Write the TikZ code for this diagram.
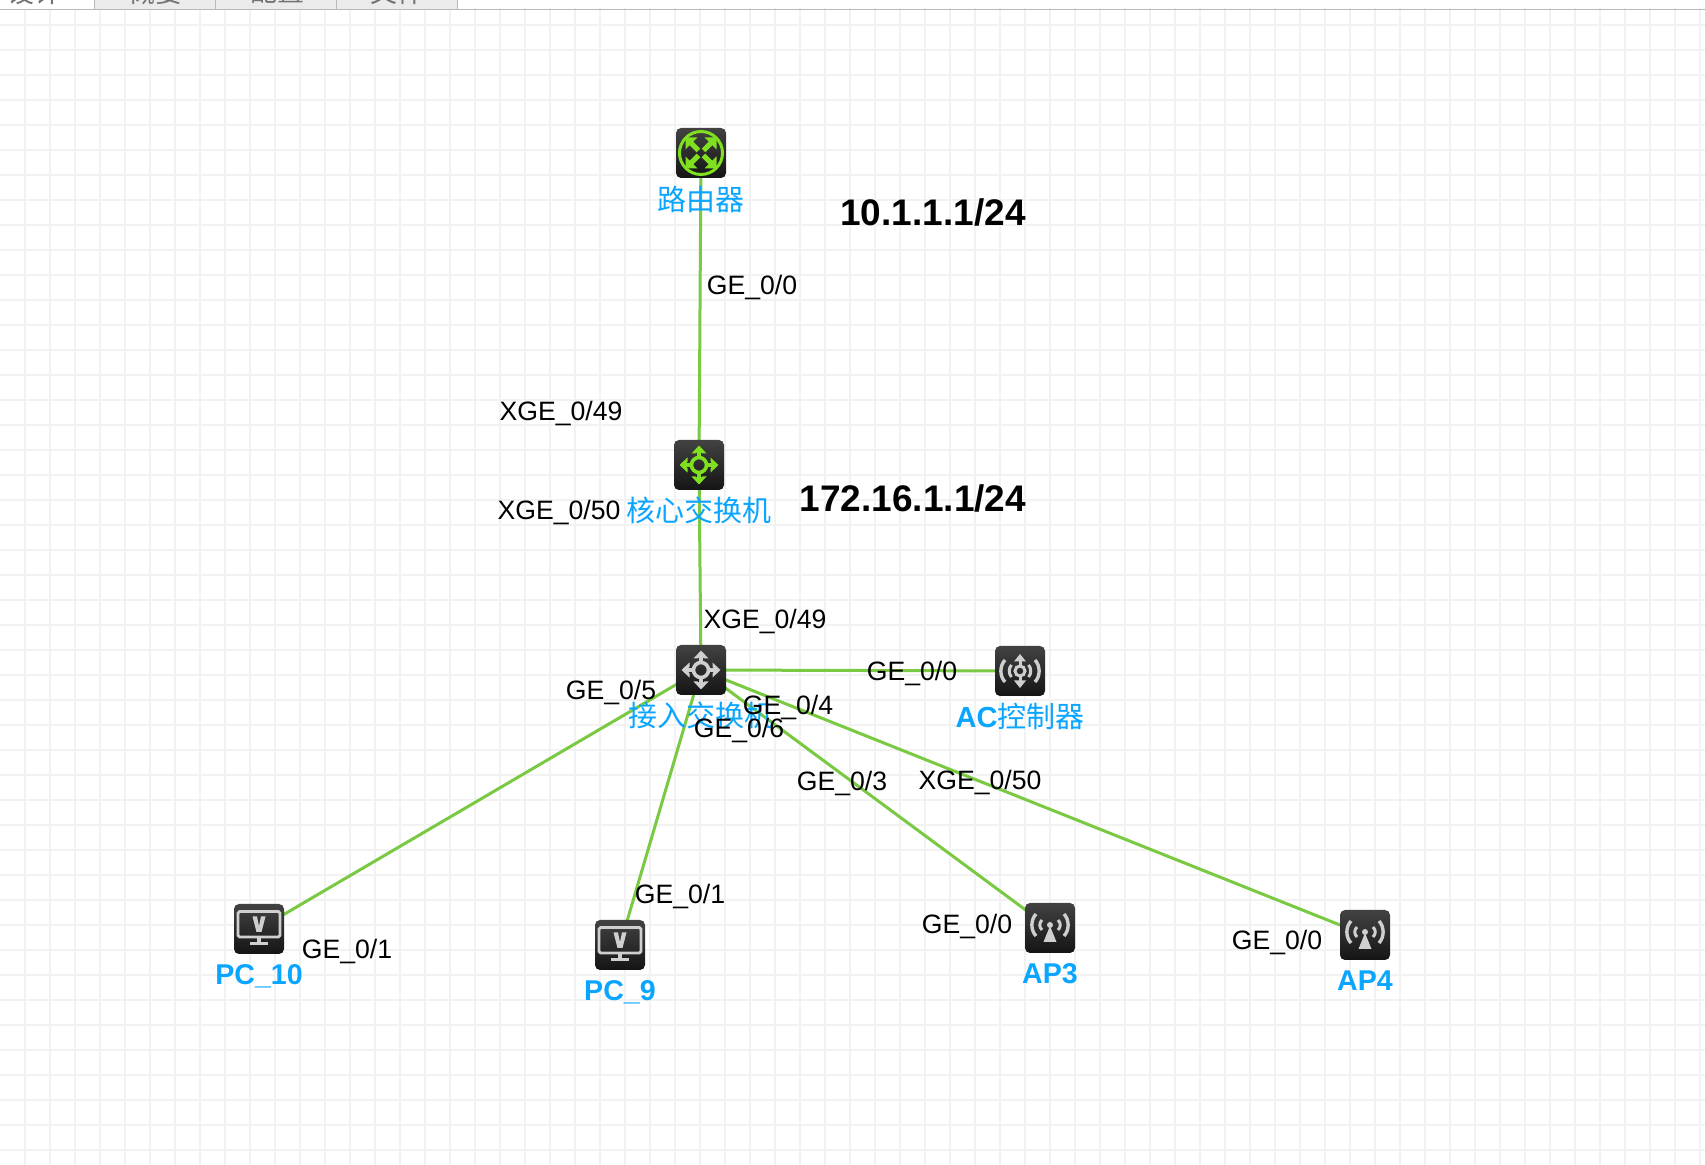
\documentclass[tikz,border=0pt]{standalone}
\usepackage{fontspec}
\setmainfont{Liberation Sans}
\newfontfamily\cjkfont{Noto Sans CJK SC}
\pgfdeclarelayer{gridlayer}
\pgfdeclarelayer{linklayer}
\pgfsetlayers{gridlayer,linklayer,main}
\definecolor{gridc}{HTML}{F2F2F2}
\definecolor{linkc}{HTML}{7AC943}
\definecolor{bluec}{HTML}{0AA5FF}
\definecolor{glowc}{HTML}{7FE020}
\definecolor{greyc}{HTML}{CFCFCF}
\tikzset{
  iconbox/.style={minimum size=25pt,inner sep=0pt,rounded corners=2.5pt,top color=black!74,bottom color=black!92,shading angle=0},
  link/.style={draw=linkc,line width=1.5pt},
  portlabel/.style={inner sep=0pt,text height=9.6pt,text depth=0pt,font=\fontsize{13.3}{16}\selectfont},
  iplabel/.style={inner sep=0pt,text height=13.2pt,text depth=0pt,font=\fontsize{18.5}{22}\selectfont\bfseries},
  devlabel/.style={inner sep=0pt,text height=10.4pt,text depth=0pt,text=bluec,font=\fontsize{14.3}{17}\selectfont\bfseries},
  cjklabel/.style={inner sep=0pt,text=bluec,font=\fontsize{14.5}{17}\selectfont\cjkfont},
  tablabel/.style={inner sep=0pt,text=black!55,font=\fontsize{13.5}{16}\selectfont\cjkfont},
  tabbox/.style={draw=black!28,line width=.5pt,fill=#1},
  routerglyph/.pic={
    \draw[glowc,line width=1.5pt] (0,0) circle[radius=21.5];
    \foreach \sx in {1,-1}\foreach \sy in {1,-1}{
      \begin{scope}[xscale=\sx,yscale=\sy]
        \draw[glowc,line width=2.6pt] (2.5,2.5) -- (10,10);
        \fill[glowc] (15.5,15.5) -- (15.5,3.5) -- (3.5,15.5) -- cycle;
      \end{scope}}
  },
  switchglyph/.pic={
    \draw[#1,line width=1.8pt] (0,0) circle[radius=7.5];
    \foreach \r in {0,90,180,270}{
      \begin{scope}[rotate=\r]
        \draw[#1,line width=1.6pt] (8,0) -- (15,0);
        \fill[#1] (19.5,0) -- (11.5,-7.5) -- (11.5,-3.5) -- (14,0) -- (11.5,3.5) -- (11.5,7.5) -- cycle;
      \end{scope}}
  },
  acglyph/.pic={
    \draw[greyc,line width=1.5pt] (0,0) circle[radius=5];
    \draw[greyc,line width=1.5pt] (0,-5) -- (0,-13) (0,5) -- (0,13);
    \fill[greyc] (0,-17) -- (6,-9.5) -- (-6,-9.5) -- cycle;
    \fill[greyc] (0,17) -- (6,9.5) -- (-6,9.5) -- cycle;
    \foreach \sx in {1,-1}{
      \begin{scope}[xscale=\sx]
        \draw[greyc,line width=1.7pt] (15,-11) .. controls (20.5,-5) and (20.5,5) .. (15,11);
        \draw[greyc,line width=1.5pt] (8.5,-6) .. controls (11.5,-3) and (11.5,3) .. (8.5,6);
      \end{scope}}
  },
  apglyph/.pic={
    \fill[greyc] (0,-3) circle[radius=3];
    \fill[greyc] (0,-2) -- (6.5,14) -- (-6.5,14) -- cycle;
    \foreach \sx in {1,-1}{
      \begin{scope}[xscale=\sx]
        \draw[greyc,line width=1.7pt] (14,-14) .. controls (19.5,-8) and (19.5,2) .. (14,8);
        \draw[greyc,line width=1.5pt] (8,-8) .. controls (11,-5) and (11,-1) .. (8,2);
      \end{scope}}
  },
  pcglyph/.pic={
    \draw[greyc,line width=1.4pt,rounded corners=.8pt] (-21,-17.5) rectangle (21,8);
    \fill[greyc] (-6.5,-12.5) -- (-2,-12.5) -- (0,-3) -- (2,-12.5) -- (6.5,-12.5) -- (2.5,3) -- (-2.5,3) -- cycle;
    \fill[greyc] (-2,9) rectangle (2,13);
    \fill[greyc] (-9,13) rectangle (9,16);
  }
}
\begin{document}
\begin{tikzpicture}[x=0.5pt,y=-0.5pt]
\useasboundingbox (0,0) rectangle (1705,1165);

% canvas grid
\begin{pgfonlayer}{gridlayer}
  \fill[white] (0,0) rectangle (1705,1165);
  \begin{scope}
    \clip (0,9) rectangle (1705,1165);
    \foreach \gx in {25,50,...,1700}{\draw[gridc,line width=1pt] (\gx,0) -- (\gx,1165);}
    \foreach \gy in {25,50,...,1150}{\draw[gridc,line width=1pt] (0,\gy) -- (1705,\gy);}
  \end{scope}
\end{pgfonlayer}

% tab strip, cut by the top edge
\begin{scope}
  \clip (0,0) rectangle (1705,10);
  \draw[tabbox=white] (-2,-5) rectangle (94,9.5);
  \draw[tabbox=black!8] (94,-5) rectangle (215,9.5);
  \draw[tabbox=black!8] (215,-5) rectangle (336,9.5);
  \draw[tabbox=black!8] (336,-5) rectangle (457,9.5);
  \draw[black!28,line width=.5pt] (94,9.5) -- (1705,9.5);
  \node[tablabel] (tabdesign) at (34,-8) {设计};
  \node[tablabel] (taboverview) at (155,-8) {概要};
  \node[tablabel] (tabconfig) at (277,-8) {配置};
  \node[tablabel] (tabfile) at (397,-8) {文件};
\end{scope}

% devices
\node[iconbox] (router) at (701,153) {};
\node[iconbox] (core) at (699,465) {};
\node[iconbox] (access) at (701,670) {};
\node[iconbox] (ac) at (1020,671) {};
\node[iconbox] (pcten) at (259,929) {};
\node[iconbox] (pcnine) at (620,945) {};
\node[iconbox] (apthree) at (1050,928) {};
\node[iconbox] (apfour) at (1365,935) {};
\pic at (router) {routerglyph};
\pic at (core) {switchglyph=glowc};
\pic at (access) {switchglyph=greyc};
\pic at (ac) {acglyph};
\pic at (pcten) {pcglyph};
\pic at (pcnine) {pcglyph};
\pic at (apthree) {apglyph};
\pic at (apfour) {apglyph};

% links
\begin{pgfonlayer}{linklayer}
  \draw[link] (router.center) -- (core.center);
  \draw[link] (core.center) -- (access.center);
  \draw[link] (access.center) -- (ac.center);
  \draw[link] (access.center) -- (pcten.center);
  \draw[link] (access.center) -- (pcnine.center);
  \draw[link] (access.center) -- (apthree.center);
  \draw[link] (access.center) -- (apfour.center);
\end{pgfonlayer}

% device labels
\node[cjklabel] (lrouter) at (701,199) {路由器};
\node[cjklabel] (lcore) at (699,510) {核心交换机};
\node[cjklabel] (laccess) at (701,715) {接入交换机};
\node[cjklabel] (lac) at (1020,716) {{\rmfamily\bfseries AC}控制器};
\node[devlabel] (lpcten) at (259,974) {PC\_10};
\node[devlabel] (lpcnine) at (620,990) {PC\_9};
\node[devlabel] (lapthree) at (1050,973) {AP3};
\node[devlabel] (lapfour) at (1365,980) {AP4};

% addresses
\node[iplabel] (iprouter) at (933,212) {10.1.1.1/24};
\node[iplabel] (ipcore) at (913,498) {172.16.1.1/24};

% port labels
\node[portlabel] (p1) at (752,285) {GE\_0/0};
\node[portlabel] (p2) at (561,411) {XGE\_0/49};
\node[portlabel] (p3) at (559,510) {XGE\_0/50};
\node[portlabel] (p4) at (765,619) {XGE\_0/49};
\node[portlabel] (p5) at (912,671) {GE\_0/0};
\node[portlabel] (p6) at (611,690) {GE\_0/5};
\node[portlabel] (p7) at (788,705) {GE\_0/4};
\node[portlabel] (p8) at (739,728) {GE\_0/6};
\node[portlabel] (p9) at (842,781) {GE\_0/3};
\node[portlabel] (p10) at (980,780) {XGE\_0/50};
\node[portlabel] (p11) at (680,894) {GE\_0/1};
\node[portlabel] (p12) at (347,949) {GE\_0/1};
\node[portlabel] (p13) at (967,924) {GE\_0/0};
\node[portlabel] (p14) at (1277,940) {GE\_0/0};
\end{tikzpicture}
\end{document}
